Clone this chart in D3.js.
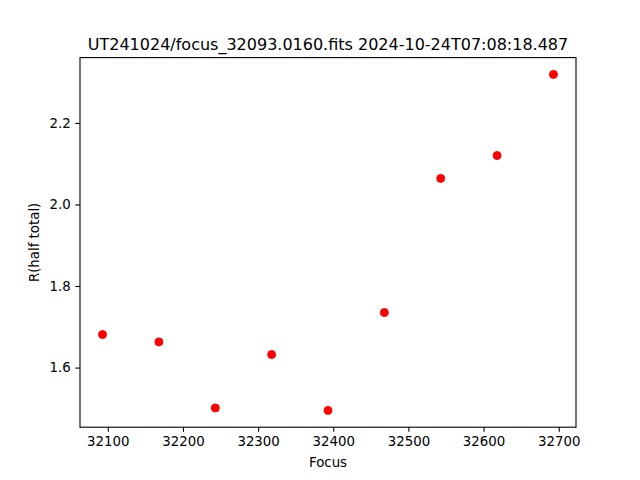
<!DOCTYPE html>
<html>
<head>
<meta charset="utf-8">
<script src="https://cdn.jsdelivr.net/npm/d3@7"></script>
<style>
  html, body { margin: 0; padding: 0; background: #fff; }
  svg { display: block; font-family: "DejaVu Sans", sans-serif; }
</style>
</head>
<body>
<svg id="chart" width="640" height="480"></svg>
<script>
const focus = [32093, 32168, 32243, 32318, 32393, 32468, 32543, 32618, 32693];
const rHalf = [1.681, 1.663, 1.501, 1.632, 1.495, 1.735, 2.064, 2.120, 2.319];
const xTicks = [32100, 32200, 32300, 32400, 32500, 32600, 32700];
const yTicks = [1.6, 1.8, 2.0, 2.2];
const title = "UT241024/focus_32093.0160.fits 2024-10-24T07:08:18.487";

const svg = d3.select("#chart");
const w = 640, h = 480;
const margin = { top: 57.6, right: 64, bottom: 52.8, left: 80 };

// matplotlib-style 5% margins around the data
function padExtent(arr) {
  const [a, b] = d3.extent(arr);
  const p = (b - a) * 0.05;
  return [a - p, b + p];
}

const x = d3.scaleLinear()
  .domain(padExtent(focus))
  .range([margin.left, w - margin.right]);

const y = d3.scaleLinear()
  .domain(padExtent(rHalf))
  .range([h - margin.bottom, margin.top]);

const tickLen = 4.67;
const fs = 13.33;

// x axis
const gx = svg.append("g")
  .attr("transform", `translate(0,${h - margin.bottom})`)
  .call(d3.axisBottom(x).tickValues(xTicks).tickFormat(d3.format("d")).tickSizeOuter(0).tickSize(tickLen).tickPadding(4.67));

// y axis
const gy = svg.append("g")
  .attr("transform", `translate(${margin.left},0)`)
  .call(d3.axisLeft(y).tickValues(yTicks).tickFormat(d3.format(".1f")).tickSizeOuter(0).tickSize(tickLen).tickPadding(4.67));

[gx, gy].forEach(g => {
  g.select(".domain").remove();
  g.selectAll(".tick line").attr("stroke", "#000").attr("stroke-width", 1.1);
  g.selectAll(".tick text")
    .attr("fill", "#000")
    .attr("font-size", fs)
    .attr("font-family", "DejaVu Sans, sans-serif");
});

// frame
svg.append("rect")
  .attr("x", margin.left)
  .attr("y", margin.top)
  .attr("width", w - margin.left - margin.right)
  .attr("height", h - margin.top - margin.bottom)
  .attr("fill", "none")
  .attr("stroke", "#000")
  .attr("stroke-width", 1.1);

// points
svg.append("g")
  .selectAll("circle")
  .data(focus.map((f, i) => ({ f, r: rHalf[i] })))
  .enter()
  .append("circle")
  .attr("cx", d => x(d.f))
  .attr("cy", d => y(d.r))
  .attr("r", 4)
  .attr("fill", "#ff0000")
  .attr("stroke", "#ff0000")
  .attr("stroke-width", 1);

// labels
svg.append("text")
  .attr("x", (margin.left + w - margin.right) / 2)
  .attr("y", 49.6)
  .attr("text-anchor", "middle")
  .attr("font-size", 16)
  .text(title);

svg.append("text")
  .attr("x", (margin.left + w - margin.right) / 2)
  .attr("y", 467)
  .attr("text-anchor", "middle")
  .attr("font-size", fs)
  .text("Focus");

svg.append("text")
  .attr("transform", `translate(39,${(margin.top + h - margin.bottom) / 2}) rotate(-90)`)
  .attr("text-anchor", "middle")
  .attr("font-size", fs)
  .text("R(half total)");
</script>
</body>
</html>
